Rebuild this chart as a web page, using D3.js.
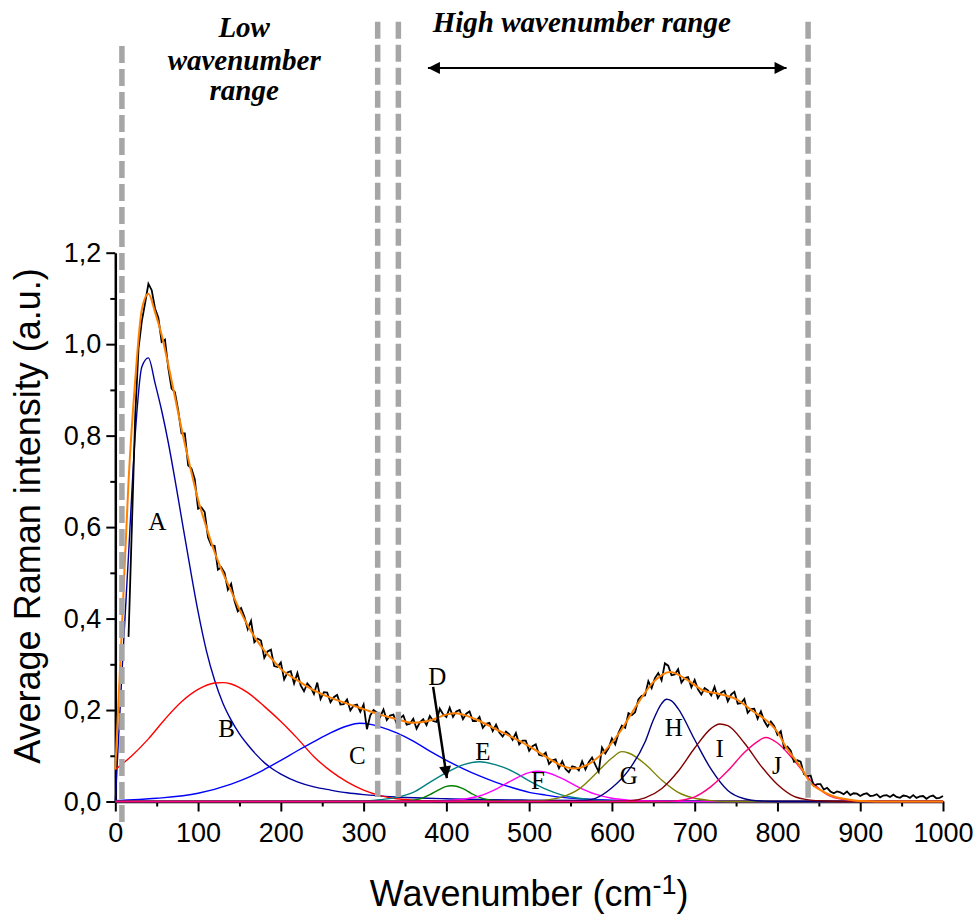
<!DOCTYPE html>
<html>
<head>
<meta charset="utf-8">
<script src="https://cdn.jsdelivr.net/npm/d3@7"></script>
<style>
  body { margin: 0; background: #fff; }
  svg { display: block; }
</style>
</head>
<body>
<div id="chart"></div>
<script>
// ---- data ----
const xTicks = [0, 100, 200, 300, 400, 500, 600, 700, 800, 900, 1000];
const xMinorTicks = [50, 150, 250, 350, 450, 550, 650, 750, 850, 950];
const yTicks = [0, 0.2, 0.4, 0.6, 0.8, 1.0, 1.2];
const yMinorTicks = [0.1, 0.3, 0.5, 0.7, 0.9, 1.1];

// measured spectrum, one value every 4 cm-1 starting at 16 cm-1
const spectrumStart = 16;
const spectrumStep = 4;
const spectrumIntensity = [
  0.36, 0.60, 0.84, 0.99, 1.05, 1.09, 1.132, 1.118, 1.078, 1.058,
  1.005, 1.01, 0.948, 0.903, 0.895, 0.855, 0.805, 0.805, 0.735, 0.728,
  0.705, 0.64, 0.643, 0.633, 0.578, 0.56, 0.559, 0.507, 0.512, 0.50,
  0.463, 0.476, 0.439, 0.416, 0.423, 0.404, 0.377, 0.395, 0.348, 0.356,
  0.352, 0.314, 0.328, 0.332, 0.296, 0.294, 0.304, 0.267, 0.282, 0.285,
  0.258, 0.281, 0.254, 0.241, 0.258, 0.25, 0.235, 0.26, 0.224, 0.239,
  0.238, 0.217, 0.228, 0.233, 0.212, 0.213, 0.223, 0.199, 0.21, 0.212,
  0.196, 0.212, 0.158, 0.188, 0.20, 0.195, 0.185, 0.201, 0.178, 0.188,
  0.19, 0.17, 0.182, 0.188, 0.168, 0.17, 0.181, 0.159, 0.173, 0.18,
  0.167, 0.187, 0.176, 0.174, 0.203, 0.191, 0.185, 0.205, 0.185, 0.197,
  0.20, 0.18, 0.192, 0.197, 0.176, 0.176, 0.185, 0.161, 0.17, 0.172,
  0.154, 0.168, 0.151, 0.142, 0.153, 0.147, 0.135, 0.15, 0.125, 0.133,
  0.133, 0.111, 0.121, 0.125, 0.102, 0.10, 0.107, 0.082, 0.09, 0.092,
  0.073, 0.088, 0.071, 0.064, 0.077, 0.075, 0.068, 0.088, 0.07, 0.086,
  0.096, 0.08, 0.065, 0.118, 0.105, 0.117, 0.138, 0.125, 0.15, 0.166,
  0.161, 0.193, 0.189, 0.195, 0.223, 0.231, 0.232, 0.263, 0.248, 0.27,
  0.281, 0.265, 0.302, 0.297, 0.276, 0.278, 0.289, 0.26, 0.27, 0.272,
  0.25, 0.266, 0.245, 0.234, 0.248, 0.243, 0.232, 0.251, 0.226, 0.238,
  0.242, 0.219, 0.234, 0.24, 0.214, 0.215, 0.224, 0.194, 0.202, 0.203,
  0.181, 0.197, 0.176, 0.164, 0.175, 0.165, 0.146, 0.154, 0.117, 0.12,
  0.111, 0.087, 0.09, 0.087, 0.06, 0.055, 0.057, 0.034, 0.038, 0.038,
  0.026, 0.03, 0.022, 0.018, 0.022, 0.02, 0.016, 0.022, 0.014, 0.018,
  0.017, 0.012, 0.016, 0.018, 0.012, 0.013, 0.016, 0.009, 0.013, 0.014,
  0.01, 0.015, 0.01, 0.008, 0.013, 0.012, 0.008, 0.014, 0.008, 0.011,
  0.012, 0.006, 0.011, 0.013, 0.007, 0.008, 0.012
];

// cumulative fit [wavenumber, intensity]
const fitCurve = [
  [0, 0.07], [8, 0.38], [16, 0.70], [24, 0.92], [32, 1.075], [40, 1.11], [48, 1.07],
  [56, 1.02], [64, 0.955], [72, 0.885], [80, 0.815], [90, 0.735], [100, 0.66],
  [110, 0.60], [120, 0.545], [130, 0.50], [140, 0.46], [150, 0.42], [160, 0.385],
  [170, 0.355], [180, 0.33], [190, 0.31], [200, 0.29], [220, 0.265], [240, 0.243],
  [260, 0.227], [280, 0.214], [300, 0.202], [320, 0.19], [340, 0.18], [360, 0.172],
  [380, 0.177], [400, 0.19], [410, 0.193], [420, 0.19], [440, 0.176], [460, 0.158],
  [480, 0.14], [500, 0.121], [520, 0.098], [540, 0.078], [555, 0.072], [570, 0.08],
  [590, 0.108], [610, 0.153], [630, 0.211], [650, 0.261], [670, 0.283], [690, 0.267],
  [710, 0.243], [730, 0.235], [750, 0.224], [770, 0.198], [790, 0.172], [800, 0.152],
  [810, 0.12], [820, 0.095], [830, 0.07], [840, 0.04], [850, 0.027], [860, 0.017],
  [870, 0.01], [880, 0.006], [900, 0.001], [920, 0], [1000, 0]
];

// fitted components [wavenumber, intensity]
const peakA = [[0, 0], [8, 0.28], [16, 0.54], [24, 0.80], [32, 0.95], [40, 0.97], [48, 0.915],
  [56, 0.855], [64, 0.785], [72, 0.705], [80, 0.62], [90, 0.515], [100, 0.415], [110, 0.33],
  [120, 0.265], [130, 0.215], [140, 0.178], [150, 0.148], [160, 0.124], [170, 0.103],
  [180, 0.085], [190, 0.071], [200, 0.06], [220, 0.043], [240, 0.032], [260, 0.025],
  [280, 0.019], [300, 0.015], [340, 0.01], [400, 0.006], [500, 0.003], [600, 0.002],
  [800, 0.001], [1000, 0]];
const peakB = [[0, 0.07], [20, 0.10], [40, 0.137], [60, 0.18], [80, 0.218], [100, 0.245],
  [120, 0.259], [130, 0.26], [140, 0.257], [160, 0.238], [180, 0.208], [200, 0.175],
  [220, 0.138], [240, 0.098], [260, 0.067], [280, 0.043], [300, 0.025], [320, 0.013],
  [340, 0.006], [360, 0.003], [400, 0.001], [450, 0], [1000, 0]];
const peakC = [[0, 0.002], [50, 0.007], [100, 0.018], [140, 0.038], [160, 0.052], [180, 0.07],
  [200, 0.09], [220, 0.111], [240, 0.131], [260, 0.15], [280, 0.165], [295, 0.171],
  [310, 0.168], [320, 0.163], [340, 0.15], [360, 0.132], [380, 0.11], [400, 0.09],
  [420, 0.072], [440, 0.056], [460, 0.042], [480, 0.03], [500, 0.02], [520, 0.014],
  [540, 0.009], [560, 0.006], [600, 0.003], [650, 0.001], [700, 0], [1000, 0]];
const peakD = [[0, 0], [340, 0], [360, 0.003], [370, 0.007], [380, 0.015], [390, 0.025],
  [400, 0.033], [405, 0.0345], [410, 0.034], [420, 0.028], [430, 0.018], [440, 0.009],
  [450, 0.004], [460, 0.002], [480, 0], [1000, 0]];
const peakE = [[0, 0], [300, 0.001], [320, 0.004], [340, 0.009], [360, 0.02], [380, 0.042],
  [400, 0.063], [420, 0.08], [440, 0.087], [460, 0.08], [480, 0.066], [500, 0.045],
  [520, 0.027], [540, 0.014], [560, 0.007], [580, 0.003], [600, 0.001], [640, 0], [1000, 0]];
const peakF = [[0, 0], [380, 0], [400, 0.002], [420, 0.005], [440, 0.012], [460, 0.027],
  [480, 0.047], [500, 0.063], [510, 0.066], [520, 0.064], [540, 0.05], [560, 0.031],
  [580, 0.016], [600, 0.007], [620, 0.003], [640, 0.001], [680, 0], [1000, 0]];
const peakG = [[0, 0], [480, 0], [500, 0.001], [520, 0.003], [540, 0.01], [560, 0.027],
  [580, 0.06], [600, 0.095], [612, 0.109], [620, 0.106], [640, 0.082], [660, 0.047],
  [680, 0.02], [700, 0.007], [720, 0.002], [740, 0], [1000, 0]];
const peakH = [[0, 0], [540, 0], [560, 0.001], [580, 0.007], [600, 0.03], [620, 0.068],
  [640, 0.13], [650, 0.178], [660, 0.214], [666, 0.2235], [672, 0.22], [680, 0.203],
  [700, 0.135], [720, 0.07], [740, 0.024], [760, 0.006], [780, 0.001], [800, 0], [1000, 0]];
const peakI = [[0, 0], [600, 0], [620, 0.001], [640, 0.008], [660, 0.028], [680, 0.066],
  [700, 0.117], [720, 0.16], [730, 0.1695], [740, 0.166], [760, 0.128], [780, 0.078],
  [800, 0.037], [820, 0.011], [840, 0.003], [860, 0.001], [880, 0], [1000, 0]];
const peakJ = [[0, 0], [660, 0], [680, 0.002], [700, 0.01], [720, 0.033], [740, 0.067],
  [760, 0.107], [775, 0.13], [786, 0.14], [800, 0.128], [820, 0.09], [840, 0.046],
  [860, 0.015], [880, 0.004], [900, 0.001], [920, 0], [1000, 0]];

const peakNames = ["A", "B", "C", "D", "E", "F", "G", "H", "I", "J"];
const peakSeries = [peakA, peakB, peakC, peakD, peakE, peakF, peakG, peakH, peakI, peakJ];
// label anchor of each peak letter [wavenumber, intensity at baseline]
const peakLabelPos = [[50.6, 0.593], [134.5, 0.142], [292.5, 0.083], [389, 0.254], [444, 0.09],
  [510.5, 0.028], [620.4, 0.039], [674.8, 0.144], [730.3, 0.098], [799.4, 0.061]];

// range boundaries (dashed) : wavenumber, top, bottom
const boundaryWavenumber = [8, 317, 342, 837];
const boundaryTop = [1.652, 1.705, 1.705, 1.705];
const boundaryBottom = [-0.054, 0.01, 0.01, 0];

// annotations
const lowRangeText = ["Low", "wavenumber", "range"];
const lowRangeX = 155.7;
const lowRangeY = [1.672, 1.600, 1.534];
const highRangeText = "High wavenumber range";
const highRangeX = 563.6;
const highRangeY = 1.683;
const highRangeArrow = [[377.7, 1.604], [811, 1.604]];
const peakDArrow = [[384, 0.2505], [400.6, 0.051]];

// ---- style ----
const peakColors = ["#0000A0", "#FF0000", "#0000FF", "#008000", "#008080",
                    "#FF00FF", "#808000", "#000080", "#800000", "#FF0080"];
const sansFont = "'Liberation Sans', Arial, sans-serif";
const serifFont = "'Liberation Serif', 'Times New Roman', serif";

const width = 980, height = 915;

const x = d3.scaleLinear().domain([0, 1000]).range([115.3, 943]);
const y = d3.scaleLinear().domain([0, 1.2]).range([801.5, 252.7]);

const svg = d3.select("#chart").append("svg")
    .attr("width", width)
    .attr("height", height);

const defs = svg.append("defs");
defs.append("marker")
    .attr("id", "head")
    .attr("viewBox", "0 0 10 10")
    .attr("refX", 10).attr("refY", 5)
    .attr("markerUnits", "userSpaceOnUse")
    .attr("markerWidth", 15).attr("markerHeight", 12)
    .attr("orient", "auto-start-reverse")
  .append("path")
    .attr("d", "M0,0L10,5L0,10z")
    .attr("fill", "#000");

// axes
svg.append("g")
    .attr("transform", `translate(0,${y(0)})`)
    .call(d3.axisBottom(x).tickValues(xTicks).tickSize(10).tickSizeOuter(0)
      .tickPadding(11).tickFormat(d3.format("d")));
const xMinor = svg.append("g")
    .attr("transform", `translate(0,${y(0)})`)
    .call(d3.axisBottom(x).tickValues(xMinorTicks).tickSize(5).tickFormat(""));
xMinor.select(".domain").remove();

svg.append("g")
    .attr("transform", `translate(${x(0)},0)`)
    .call(d3.axisLeft(y).tickValues(yTicks).tickSize(9).tickSizeOuter(0)
      .tickPadding(5).tickFormat(d => d3.format(".1f")(d).replace(".", ",")));
const yMinor = svg.append("g")
    .attr("transform", `translate(${x(0)},0)`)
    .call(d3.axisLeft(y).tickValues(yMinorTicks).tickSize(5).tickFormat(""));
yMinor.select(".domain").remove();

svg.selectAll(".domain").attr("stroke", "#000").attr("stroke-width", 2.5);
svg.selectAll(".tick line").attr("stroke", "#000").attr("stroke-width", 2);
svg.selectAll(".tick text")
    .attr("fill", "#000")
    .style("font-family", sansFont)
    .style("font-size", "27px");

// axis titles
svg.append("text")
    .attr("transform", "translate(40,516) rotate(-90)")
    .attr("text-anchor", "middle")
    .style("font-family", sansFont)
    .style("font-size", "36px")
    .text("Average Raman intensity (a.u.)");

const xTitle = svg.append("text")
    .attr("x", (x(0) + x(1000)) / 2)
    .attr("y", 906)
    .attr("text-anchor", "middle")
    .style("font-family", sansFont)
    .style("font-size", "36px");
xTitle.append("tspan").text("Wavenumber (cm");
xTitle.append("tspan").attr("dy", -12).style("font-size", "27px").text("-1");
xTitle.append("tspan").attr("dy", 12).text(")");

// curves
const line = d3.line()
    .x(d => x(d[0]))
    .y(d => y(d[1]))
    .curve(d3.curveMonotoneX);

svg.append("g").selectAll("path")
    .data(peakSeries)
  .enter().append("path")
    .attr("d", line)
    .attr("fill", "none")
    .attr("stroke", (d, i) => peakColors[i])
    .attr("stroke-width", 1.4);

const spectrumLine = d3.line()
    .x((d, i) => x(spectrumStart + i * spectrumStep))
    .y(d => y(d));

svg.append("path")
    .datum(spectrumIntensity)
    .attr("d", spectrumLine)
    .attr("fill", "none")
    .attr("stroke", "#000")
    .attr("stroke-width", 1.8)
    .attr("stroke-linejoin", "miter");

svg.append("path")
    .datum(fitCurve)
    .attr("d", line)
    .attr("fill", "none")
    .attr("stroke", "#FF8000")
    .attr("stroke-width", 2);

// dashed boundaries
svg.append("g").selectAll("line")
    .data(boundaryWavenumber)
  .enter().append("line")
    .attr("x1", d => x(d)).attr("x2", d => x(d))
    .attr("y1", (d, i) => y(boundaryTop[i]))
    .attr("y2", (d, i) => y(boundaryBottom[i]))
    .attr("stroke", "#a6a6a6")
    .attr("stroke-width", 5.5)
    .attr("stroke-dasharray", "17,6");

// peak letters
svg.append("g").selectAll("text")
    .data(peakNames)
  .enter().append("text")
    .attr("x", (d, i) => x(peakLabelPos[i][0]))
    .attr("y", (d, i) => y(peakLabelPos[i][1]))
    .attr("text-anchor", "middle")
    .style("font-family", serifFont)
    .style("font-size", "25px")
    .text(d => d);

// D arrow
svg.append("line")
    .attr("x1", x(peakDArrow[0][0])).attr("y1", y(peakDArrow[0][1]))
    .attr("x2", x(peakDArrow[1][0])).attr("y2", y(peakDArrow[1][1]))
    .attr("stroke", "#000")
    .attr("stroke-width", 2.5)
    .attr("marker-end", "url(#head)");

// range annotations
svg.append("g").selectAll("text")
    .data(lowRangeText)
  .enter().append("text")
    .attr("x", x(lowRangeX))
    .attr("y", (d, i) => y(lowRangeY[i]))
    .attr("text-anchor", "middle")
    .style("font-family", serifFont)
    .style("font-size", "29px")
    .style("font-weight", "bold")
    .style("font-style", "italic")
    .text(d => d);

svg.append("text")
    .attr("x", x(highRangeX))
    .attr("y", y(highRangeY))
    .attr("text-anchor", "middle")
    .style("font-family", serifFont)
    .style("font-size", "29px")
    .style("font-weight", "bold")
    .style("font-style", "italic")
    .text(highRangeText);

svg.append("line")
    .attr("x1", x(highRangeArrow[0][0])).attr("y1", y(highRangeArrow[0][1]))
    .attr("x2", x(highRangeArrow[1][0])).attr("y2", y(highRangeArrow[1][1]))
    .attr("stroke", "#000")
    .attr("stroke-width", 2)
    .attr("marker-start", "url(#head)")
    .attr("marker-end", "url(#head)");
</script>
</body>
</html>
